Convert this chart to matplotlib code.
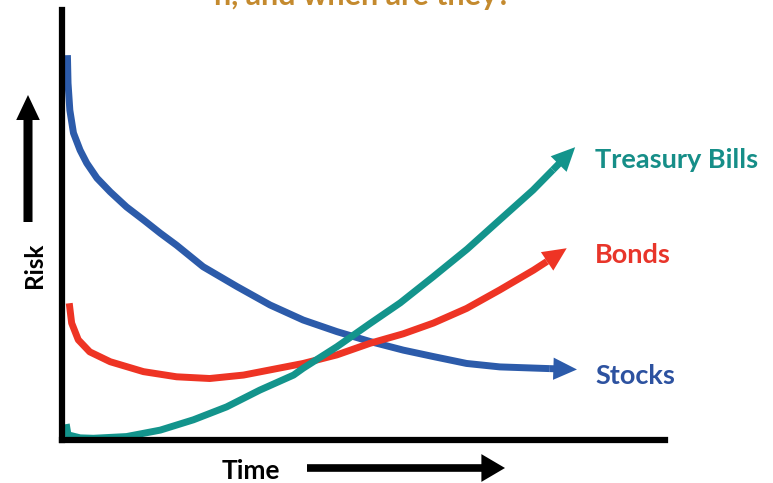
import matplotlib
matplotlib.use("Agg")
import matplotlib.pyplot as plt
from matplotlib.patches import FancyArrowPatch

plt.rcParams['font.family'] = ['Lato', 'DejaVu Sans']

# risk over time (time 0..10, risk 0..10)
stocks_t = [0.09, 0.10, 0.13, 0.19, 0.30, 0.41, 0.58, 0.80, 1.07, 1.35, 1.63, 1.90,
            2.34, 2.90, 3.45, 4.00, 4.56, 5.11, 5.66, 6.16, 6.71, 7.26, 8.09]
stocks_r = [8.95, 8.30, 7.67, 7.14, 6.74, 6.44, 6.09, 5.77, 5.42, 5.12, 4.81, 4.53,
            4.03, 3.57, 3.14, 2.79, 2.52, 2.29, 2.09, 1.94, 1.78, 1.70, 1.66]
stocks_tip = (8.54, 1.64)

bonds_t = [0.12, 0.16, 0.27, 0.46, 0.80, 1.35, 1.90, 2.45, 3.01, 3.45, 4.00, 4.56,
           5.11, 5.66, 6.16, 6.71, 7.26, 7.82, 8.04]
bonds_r = [3.18, 2.72, 2.33, 2.05, 1.82, 1.59, 1.47, 1.43, 1.51, 1.63, 1.78, 1.98,
           2.25, 2.47, 2.72, 3.06, 3.49, 3.95, 4.15]
bonds_tip = (8.37, 4.46)

bills_t = [0.07, 0.10, 0.30, 0.52, 1.07, 1.63, 2.18, 2.73, 3.28, 3.84, 4.00, 4.56,
           5.11, 5.61, 6.15, 6.72, 7.26, 7.81, 8.14]
bills_r = [0.37, 0.12, 0.05, 0.04, 0.08, 0.23, 0.47, 0.77, 1.16, 1.51, 1.67, 2.17,
           2.71, 3.19, 3.79, 4.44, 5.12, 5.81, 6.28]
bills_tip = (8.51, 6.81)

blue = '#2C5BAA'
red = '#EE3424'
teal = '#13948C'

W, H = 773, 483
fig = plt.figure(figsize=(W / 100, H / 100), dpi=100)
ax = fig.add_axes([62 / W, 43 / H, 603 / W, 430 / H])
ax.set_xlim(0, 10)
ax.set_ylim(0, 10)
ax.set_xticks([])
ax.set_yticks([])
for s in ['top', 'right']:
    ax.spines[s].set_visible(False)
for s in ['left', 'bottom']:
    ax.spines[s].set_linewidth(4.5)
    ax.spines[s].set_color('black')


def curve(t, r, tip, col):
    ax.plot(t, r, color=col, lw=5, solid_capstyle='butt', solid_joinstyle='round', clip_on=False)
    ax.annotate('', xy=tip, xytext=(t[-1], r[-1]),
                arrowprops=dict(arrowstyle='simple,head_length=17,head_width=16,tail_width=5',
                                mutation_scale=1, color=col, lw=0,
                                shrinkA=0, shrinkB=0),
                annotation_clip=False)


curve(stocks_t, stocks_r, stocks_tip, blue)
curve(bonds_t, bonds_r, bonds_tip, red)
curve(bills_t, bills_r, bills_tip, teal)

# series labels
fig.text(595 / W, 323 / H, 'Treasury Bills', color='#168E88', fontsize=19.5,
         fontweight='bold', va='center', ha='left')
fig.text(595 / W, 228 / H, 'Bonds', color='#E8352A', fontsize=19.5,
         fontweight='bold', va='center', ha='left')
fig.text(595 / W, 107 / H, 'Stocks', color='#2D52A0', fontsize=19.5,
         fontweight='bold', va='center', ha='left')

# axis labels with arrows
fig.text(34 / W, 218 / H, 'Risk', rotation=90, fontsize=17.5, fontweight='bold',
         va='center', ha='center')
fig.text(251 / W, 12 / H, 'Time', fontsize=19, fontweight='bold',
         va='center', ha='center')

up = FancyArrowPatch((28, 261), (28, 388), transform=None,
                     arrowstyle='simple,head_length=18,head_width=17,tail_width=6.5',
                     mutation_scale=1, color='black', lw=0, shrinkA=0, shrinkB=0)
right = FancyArrowPatch((307, 15), (505, 15), transform=None,
                        arrowstyle='simple,head_length=17,head_width=20,tail_width=5.5',
                        mutation_scale=1, color='black', lw=0, shrinkA=0, shrinkB=0)
fig.add_artist(up)
fig.add_artist(right)

# clipped title at the very top
fig.text(363 / W, 1 - 5 / H, 'n, and when are they?', color='#C48A2E', fontsize=22,
         fontweight='bold', va='baseline', ha='center')

fig.savefig('out.png', dpi=100)
